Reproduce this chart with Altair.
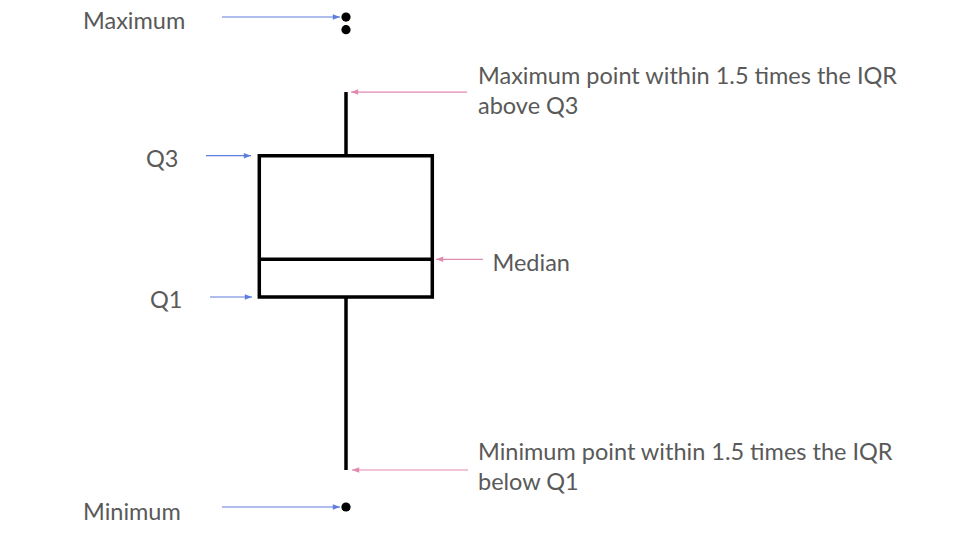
import altair as alt
import pandas as pd

# ---- Box-plot statistics (value units) ----
stat_names = ["Lower whisker", "Q1", "Median", "Q3", "Upper whisker"]
stat_values = [7.55, 42.86, 50.55, 71.7, 84.69]
point_names = ["Minimum", "Maximum (2nd)", "Maximum"]
point_values = [0.0, 97.41, 100.0]

# ---- Annotation texts ----
left_labels = ["Maximum", "Q3", "Q1", "Minimum"]
left_targets = [100.0, 71.7, 42.86, 0.0]
right_labels = [
    "Maximum point within 1.5 times the IQR\nabove Q3",
    "Median",
    "Minimum point within 1.5 times the IQR\nbelow Q1",
]
right_targets = [84.69, 50.55, 7.55]

stats = dict(zip(stat_names, stat_values))

# ---- Layout (pixels) ----
W, H = 944, 524
XS = alt.Scale(domain=[8, 952])
YS = alt.Scale(domain=[-5.10, 101.84])
BOX_X0, BOX_X1, CX = 259.3, 432.3, 346
LW = 3.5
BLUE = "#5f7ddc"
PINK = "#e28aae"
GREY = "#595959"
FONT = "Lato"
FS = 23.5
LH = 30

left_arrow_x = [(222, 340), (206, 251), (210, 252), (222, 340)]
left_text_x = [83, 146, 150, 83]
left_text_dy = [12, 11, 11.5, 13]
right_arrow_x = [(467, 351), (483, 436), (468, 352)]
right_text_x = [478, 492.5, 478]
right_text_dy = [-8, 12, -10]


def X(field):
    return alt.X(field, type="quantitative", scale=XS, axis=None)


def Y(field):
    return alt.Y(field, type="quantitative", scale=YS, axis=None)


layers = []

# Box
box_df = pd.DataFrame([{"x0": BOX_X0, "x1": BOX_X1, "q1": stats["Q1"], "q3": stats["Q3"]}])
layers.append(
    alt.Chart(box_df).mark_rect(fillOpacity=0, stroke="black", strokeWidth=LW).encode(
        x=X("x0"), x2="x1", y=Y("q1"), y2="q3"
    )
)
# Median
med_df = pd.DataFrame([{"x0": BOX_X0, "x1": BOX_X1, "m": stats["Median"]}])
layers.append(
    alt.Chart(med_df).mark_rule(color="black", strokeWidth=LW).encode(
        x=X("x0"), x2="x1", y=Y("m")
    )
)
# Whiskers
wh_df = pd.DataFrame([
    {"x": CX, "a": stats["Q3"], "b": stats["Upper whisker"]},
    {"x": CX, "a": stats["Lower whisker"], "b": stats["Q1"]},
])
layers.append(
    alt.Chart(wh_df).mark_rule(color="black", strokeWidth=LW).encode(
        x=X("x"), y=Y("a"), y2="b"
    )
)
# Points
pt_df = pd.DataFrame({"x": [CX] * len(point_values), "v": point_values, "name": point_names})
layers.append(
    alt.Chart(pt_df).mark_circle(color="black", size=85, opacity=1).encode(
        x=X("x"), y=Y("v")
    )
)


# Arrows
def arrows(targets, xs, color, path):
    df = pd.DataFrame({
        "v": targets,
        "xs": [a for a, b in xs],
        "xt": [b for a, b in xs],
    })
    line = alt.Chart(df).mark_rule(color=color, strokeWidth=1.2).encode(
        x=X("xs"), x2="xt", y=Y("v")
    )
    head = alt.Chart(df).mark_point(
        shape=path, filled=True, size=52, color=color, opacity=1, strokeWidth=0
    ).encode(x=X("xt"), y=Y("v"))
    return [line, head]


layers += arrows(left_targets, left_arrow_x, BLUE, "M0,0L-2,-0.75L-2,0.75Z")
layers += arrows(right_targets, right_arrow_x, PINK, "M0,0L2,-0.75L2,0.75Z")

# Texts
for lab, v, tx, dy in list(zip(left_labels, left_targets, left_text_x, left_text_dy)) + list(
    zip(right_labels, right_targets, right_text_x, right_text_dy)
):
    df = pd.DataFrame([{"t": lab, "v": v, "x": tx}])
    layers.append(
        alt.Chart(df).mark_text(
            align="left", baseline="alphabetic", dy=dy, font=FONT, fontSize=FS,
            color=GREY, lineBreak="\n", lineHeight=LH
        ).encode(x=X("x"), y=Y("v"), text="t:N")
    )

chart = (
    alt.layer(*layers)
    .properties(width=W, height=H, padding=0, background="white")
    .configure_view(stroke=None)
)

chart.save("out.html", embed_options={"renderer": "svg", "actions": False})
